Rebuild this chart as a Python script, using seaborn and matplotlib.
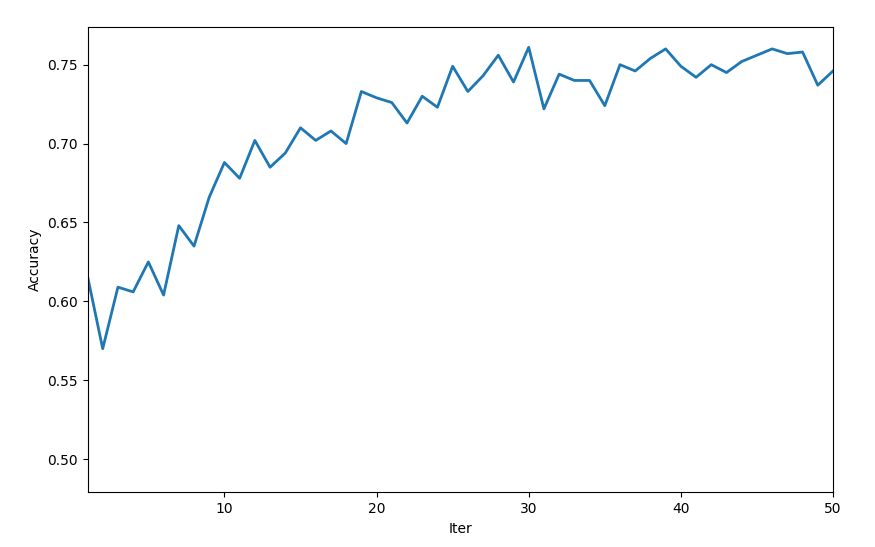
import pandas as pd
import matplotlib
matplotlib.use("Agg")
import matplotlib.pyplot as plt
import seaborn as sns

iters = list(range(1, 51))
accuracy = [0.616, 0.570, 0.609, 0.606, 0.625, 0.604, 0.648, 0.635, 0.666, 0.688,
            0.678, 0.702, 0.685, 0.694, 0.710, 0.702, 0.708, 0.700, 0.733, 0.729,
            0.726, 0.713, 0.730, 0.723, 0.749, 0.733, 0.743, 0.756, 0.739, 0.761,
            0.722, 0.744, 0.740, 0.740, 0.724, 0.750, 0.746, 0.754, 0.760, 0.749,
            0.742, 0.750, 0.745, 0.752, 0.756, 0.760, 0.757, 0.758, 0.737, 0.746]

df = pd.DataFrame({"Iter": iters, "Accuracy": accuracy})

fig, ax = plt.subplots(figsize=(8.75, 5.47), dpi=100)
fig.subplots_adjust(left=0.1, right=0.952, top=0.951, bottom=0.1)

sns.lineplot(data=df, x="Iter", y="Accuracy", ax=ax, linewidth=2, color="#1f77b4")

ax.set_xlim(1, 50)
ax.set_ylim(0.479, 0.774)
ax.set_xlabel("Iter")
ax.set_ylabel("Accuracy")

plt.savefig("out.png")
